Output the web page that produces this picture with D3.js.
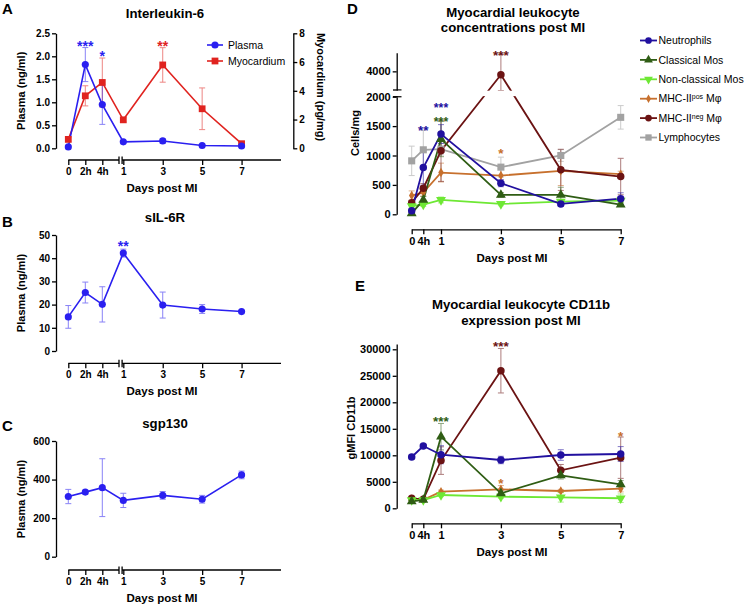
<!DOCTYPE html>
<html><head><meta charset="utf-8">
<script src="https://cdn.jsdelivr.net/npm/d3@7"></script>
<style>body{margin:0;background:#fff}</style>
</head><body><svg id="c" width="746" height="604" style="display:block"></svg>
<script>
// ---------------- DATA ----------------
const abcTimeLabels = ["0", "2h", "4h", "1", "3", "5", "7"];
const abcTimes = [0, 2 / 24, 4 / 24, 1, 3, 5, 7];

const il6Plasma = [0.03, 1.82, 0.95, 0.14, 0.16, 0.06, 0.05];
const il6PlasmaErr = [0.02, 0.37, 0.43, 0.03, 0.05, 0.02, 0.02];
const il6Myo = [0.62, 3.65, 4.58, 1.98, 5.8, 2.75, 0.32];
const il6MyoErr = [0.12, 0.7, 1.7, 0.15, 1.2, 1.45, 0.05];

const sil6r = [14.7, 25.2, 20.1, 42.2, 19.8, 18.1, 17.0];
const sil6rErr = [4.9, 4.5, 7.6, 1.7, 5.6, 1.9, 0.5];

const sgp130 = [312, 335, 358, 292, 318, 298, 424];
const sgp130Err = [37, 10, 150, 37, 20, 20, 20];

const deTimeLabels = ["0", "4h", "1", "3", "5", "7"];
const deTimes = [0, 4 / 24, 1, 3, 5, 7];

const cellNames = ["Neutrophils", "Classical Mos", "Non-classical Mos", "MHC-II|pos| Mφ", "MHC-II|neg| Mφ", "Lymphocytes"];

const concNeutro = [61, 795, 1365, 529, 176, 266];
const concNeutroErr = [30, 300, 160, 60, 40, 100];
const concClassic = [17, 244, 1280, 330, 330, 164];
const concClassicErr = [20, 60, 300, 40, 130, 30];
const concNonClassic = [141, 164, 244, 176, 215, 235];
const concNonClassicErr = [20, 30, 50, 30, 40, 40];
const concMhcPos = [318, 370, 710, 659, 739, 683];
const concMhcPosErr = [80, 60, 160, 120, 250, 50];
const concMhcNeg = [198, 443, 1080, 3908, 756, 642];
const concMhcNegErr = [40, 80, 520, 540, 350, 310];
const concLymph = [909, 1097, 1109, 802, 1000, 1649];
const concLymphErr = [250, 330, 100, 170, 100, 200];

const cd11Neutro = [9680, 11755, 10113, 9113, 10057, 10245];
const cd11NeutroErr = [400, 300, 1700, 700, 1000, 1400];
const cd11Classic = [1300, 1566, 13510, 2830, 6226, 4528];
const cd11ClassicErr = [200, 200, 2500, 600, 700, 700];
const cd11NonClassic = [1566, 1566, 2510, 2189, 2075, 1900];
const cd11NonClassicErr = [150, 150, 300, 300, 900, 800];
const cd11MhcPos = [1700, 1600, 3132, 3585, 3264, 3698];
const cd11MhcPosErr = [200, 200, 300, 700, 300, 600];
const cd11MhcNeg = [1887, 1700, 9000, 25962, 7170, 9547];
const cd11MhcNegErr = [200, 200, 2600, 4200, 1100, 3900];

// ---------------- STYLE ----------------
const FONT = '"Liberation Sans", Arial, Helvetica, sans-serif';
const BLUE = "#2a1ff0", RED = "#e0231f";
const C_NEU = "#21109f", C_CLA = "#2f5d14", C_NON = "#6ee834", C_POS = "#c7702d", C_NEG = "#6b1313", C_LYM = "#a2a2a2";

const svg = d3.select("#c");

function text(g, x, y, s, o = {}) {
  const t = g.append("text").attr("x", x).attr("y", y).attr("font-family", FONT)
    .attr("font-size", o.size || 11).attr("font-weight", o.weight || "bold")
    .attr("fill", o.color || "#000").attr("text-anchor", o.anchor || "middle").text(s);
  if (o.rotate !== undefined) t.attr("transform", `rotate(${o.rotate},${x},${y})`);
  if (o.dy) t.attr("dy", o.dy);
  return t;
}

function styleAxis(a, size) {
  a.attr("font-family", FONT).attr("font-size", size).attr("font-weight", "bold");
  a.selectAll("text").attr("fill", "#000");
  a.selectAll("path,line").attr("stroke", "#000").attr("stroke-width", 1.3);
}

function sym(type, size, rot) {
  return { type, size, rot: rot || 0 };
}

function drawSeries(g, times, vals, x, y, color, lw) {
  const line = d3.line().x((d, i) => x(times[i])).y(d => y(d));
  g.append("path").datum(vals).attr("d", line).attr("fill", "none").attr("stroke", color).attr("stroke-width", lw || 1.6);
}
function drawErr(g, times, vals, errs, x, y, color) {
  vals.forEach((v, i) => {
    const xx = x(times[i]);
    const y1 = y(v + errs[i]), y2 = y(Math.max(v - errs[i], 0));
    const eg = g.append("g").attr("stroke", color).attr("stroke-width", 1).attr("opacity", 0.55);
    eg.append("line").attr("x1", xx).attr("x2", xx).attr("y1", y1).attr("y2", y2);
    eg.append("line").attr("x1", xx - 3).attr("x2", xx + 3).attr("y1", y1).attr("y2", y1);
    eg.append("line").attr("x1", xx - 3).attr("x2", xx + 3).attr("y1", y2).attr("y2", y2);
  });
}
function drawPoints(g, times, vals, x, y, color, s) {
  vals.forEach((v, i) => {
    g.append("path").attr("d", d3.symbol().type(s.type).size(s.size)())
      .attr("transform", `translate(${x(times[i])},${y(v)}) rotate(${s.rot})`).attr("fill", color);
  });
}

// ---------- A-C x axis (broken) ----------
function abcScale() {
  return d3.scaleLinear().domain([0, 4 / 24, 1, 9]).range([68.3, 102.3, 123.3, 281]);
}
function brokenX(g, x, yA) {
  const ax = d3.axisBottom(x).tickValues(abcTimes).tickFormat((d, i) => abcTimeLabels[i])
    .tickSize(5).tickSizeOuter(0).tickPadding(3);
  const a = g.append("g").attr("transform", `translate(0,${yA})`).call(ax);
  a.select(".domain").remove();
  styleAxis(a, 10);
  const b1 = x(1) - 4.3, b2 = x(1) - 1.2;
  const lg = g.append("g").attr("stroke", "#000").attr("stroke-width", 1.3);
  lg.append("line").attr("x1", x(0)).attr("x2", b1).attr("y1", yA).attr("y2", yA);
  lg.append("line").attr("x1", b2).attr("x2", x(9)).attr("y1", yA).attr("y2", yA);
  [b1, b2].forEach(b => lg.append("line").attr("x1", b).attr("x2", b).attr("y1", yA - 3.5).attr("y2", yA + 4));
  text(g, 162, yA + 28, "Days post MI", { size: 11.5, dy: "0.35em" });
}

function leftAxis(g, y, xA, ticks, fmt, size) {
  const ax = d3.axisLeft(y).tickValues(ticks).tickSize(4).tickSizeOuter(0).tickPadding(2);
  if (fmt) ax.tickFormat(fmt);
  const a = g.append("g").attr("transform", `translate(${xA},0)`).call(ax);
  styleAxis(a, size || 10);
  return a;
}

// ================= PANEL A =================
{
  const g = svg.append("g");
  const x = abcScale();
  const yL = d3.scaleLinear().domain([0, 2.5]).range([148.3, 33.3]);
  const yR = d3.scaleLinear().domain([0, 8]).range([148.3, 33.3]);
  text(g, 2, 13.5, "A", { size: 15, anchor: "start" });
  text(g, 165, 13, "Interleukin-6", { size: 13.2, dy: "0.35em" });
  leftAxis(g, yL, 56, [0, 0.5, 1, 1.5, 2, 2.5], d3.format(".1f"));
  const ar = g.append("g").attr("transform", "translate(293.3,0)")
    .call(d3.axisRight(yR).tickValues([0, 2, 4, 6, 8]).tickSize(4).tickSizeOuter(0).tickPadding(2));
  styleAxis(ar, 10);
  text(g, 25, 90.8, "Plasma (ng/ml)", { size: 11, rotate: -90 });
  text(g, 316.5, 87, "Myocardium (pg/mg)", { size: 11, rotate: 90 });
  brokenX(g, x, 160);
  drawSeries(g, abcTimes, il6Myo, x, yR, RED, 1.6);
  drawSeries(g, abcTimes, il6Plasma, x, yL, BLUE, 1.6);
  drawErr(g, abcTimes, il6Myo, il6MyoErr, x, yR, RED);
  drawErr(g, abcTimes, il6Plasma, il6PlasmaErr, x, yL, BLUE);
  drawPoints(g, abcTimes, il6Myo, x, yR, RED, sym(d3.symbolSquare, 46));
  drawPoints(g, abcTimes, il6Plasma, x, yL, BLUE, sym(d3.symbolCircle, 40));
  // stars
  text(g, x(2 / 24), yL(2.29) + 8, "***", { size: 14, color: BLUE });
  text(g, x(4 / 24), yL(2.07) + 8, "*", { size: 14, color: BLUE });
  text(g, x(3), yL(2.29) + 8, "**", { size: 14, color: RED });
  // legend
  [["Plasma", BLUE, sym(d3.symbolCircle, 40)], ["Myocardium", RED, sym(d3.symbolSquare, 46)]].forEach((d, i) => {
    const yy = 45 + i * 16;
    g.append("line").attr("x1", 207).attr("x2", 223).attr("y1", yy).attr("y2", yy).attr("stroke", d[1]).attr("stroke-width", 1.6);
    g.append("path").attr("d", d3.symbol().type(d[2].type).size(d[2].size)()).attr("transform", `translate(215,${yy})`).attr("fill", d[1]);
    text(g, 228, yy, d[0], { size: 10.5, weight: "normal", anchor: "start", dy: "0.35em" });
  });
}

// ================= PANEL B =================
{
  const g = svg.append("g");
  const x = abcScale();
  const y = d3.scaleLinear().domain([0, 50]).range([351, 235]);
  text(g, 2, 227, "B", { size: 15, anchor: "start" });
  text(g, 165, 217.5, "sIL-6R", { size: 13.2, dy: "0.35em" });
  leftAxis(g, y, 56, [0, 10, 20, 30, 40, 50]);
  text(g, 25, 293, "Plasma (ng/ml)", { size: 11, rotate: -90 });
  brokenX(g, x, 363.3);
  drawSeries(g, abcTimes, sil6r, x, y, BLUE, 1.6);
  drawErr(g, abcTimes, sil6r, sil6rErr, x, y, BLUE);
  drawPoints(g, abcTimes, sil6r, x, y, BLUE, sym(d3.symbolCircle, 40));
  text(g, x(1), y(46.5) + 8, "**", { size: 14, color: BLUE });
}

// ================= PANEL C =================
{
  const g = svg.append("g");
  const x = abcScale();
  const y = d3.scaleLinear().domain([0, 600]).range([556.7, 441]);
  text(g, 2, 431, "C", { size: 15, anchor: "start" });
  text(g, 165, 423.5, "sgp130", { size: 13.2, dy: "0.35em" });
  leftAxis(g, y, 56, [0, 200, 400, 600]);
  text(g, 25, 499, "Plasma (ng/ml)", { size: 11, rotate: -90 });
  brokenX(g, x, 570);
  drawSeries(g, abcTimes, sgp130, x, y, BLUE, 1.6);
  drawErr(g, abcTimes, sgp130, sgp130Err, x, y, BLUE);
  drawPoints(g, abcTimes, sgp130, x, y, BLUE, sym(d3.symbolCircle, 40));
}

// ---------- D/E helpers ----------
function deScale() {
  return d3.scaleLinear().domain([0, 4 / 24, 1, 7]).range([411.7, 423.3, 441, 620.7]);
}
function deX(g, x, yA) {
  const ax = d3.axisBottom(x).tickValues(deTimes).tickFormat((d, i) => deTimeLabels[i])
    .tickSize(5).tickSizeOuter(0).tickPadding(3);
  const a = g.append("g").attr("transform", `translate(0,${yA})`).call(ax);
  styleAxis(a, 11);
  text(g, 512, yA + 28.5, "Days post MI", { size: 11.5, dy: "0.35em" });
}
const markers = [
  sym(d3.symbolCircle, 44), sym(d3.symbolTriangle, 42), sym(d3.symbolTriangle, 42, 180),
  sym(d3.symbolDiamond, 26), sym(d3.symbolCircle, 44), sym(d3.symbolSquare, 50)
];
const cellColors = [C_NEU, C_CLA, C_NON, C_POS, C_NEG, C_LYM];

// ================= PANEL D =================
{
  const g = svg.append("g");
  const x = deScale();
  const yLow = d3.scaleLinear().domain([0, 2000]).range([214.3, 96.7]);
  const yHigh = d3.scaleLinear().domain([3500, 4500]).range([90, 52.7]);
  const y = v => (v <= 2000 ? yLow(v) : (v >= 3500 ? yHigh(v) : yLow(2000) - (v - 2000) / 1500 * (yLow(2000) - yHigh(3500))));
  text(g, 347, 13.5, "D", { size: 15, anchor: "start" });
  text(g, 513, 12, "Myocardial leukocyte", { size: 13.2, dy: "0.35em" });
  text(g, 513, 27.5, "concentrations post MI", { size: 13.2, dy: "0.35em" });
  leftAxis(g, yLow, 396.7, [0, 500, 1000, 1500, 2000], d3.format("d"), 11);
  leftAxis(g, yHigh, 396.7, [4000], d3.format("d"), 11);
  const bl = g.append("g").attr("stroke", "#000").attr("stroke-width", 1.3);
  [90, 96.7].forEach(b => bl.append("line").attr("x1", 393).attr("x2", 401.5).attr("y1", b).attr("y2", b));
  text(g, 359, 133, "Cells/mg", { size: 11, rotate: -90 });
  deX(g, x, 229.3);
  const conc = [concNeutro, concClassic, concNonClassic, concMhcPos, concMhcNeg, concLymph];
  const concErr = [concNeutroErr, concClassicErr, concNonClassicErr, concMhcPosErr, concMhcNegErr, concLymphErr];
  const order = [5, 3, 4, 2, 1, 0];
  order.forEach(k => drawErr(g, deTimes, conc[k], concErr[k], x, y, cellColors[k]));
  order.forEach(k => drawSeries(g, deTimes, conc[k], x, y, cellColors[k], 1.8));
  g.append("rect").attr("x", 398).attr("y", 90.7).attr("width", 230).attr("height", 5.4).attr("fill", "#fff");
  order.forEach(k => drawPoints(g, deTimes, conc[k], x, y, cellColors[k], markers[k]));
  text(g, x(4 / 24), yLow(1490) + 8, "**", { size: 13.5, color: C_NEU });
  text(g, x(1), yLow(1859) + 7.3, "***", { size: 12.3, color: C_NEU });
  text(g, x(1), yLow(1625) + 7.3, "***", { size: 12.3, color: C_CLA });
  text(g, x(3), yHigh(4527) + 8, "***", { size: 13.5, color: C_NEG });
  text(g, x(3), yLow(1097) + 8, "*", { size: 13.5, color: C_POS });
  // legend
  cellNames.forEach((n, i) => {
    const yy = 40.5 + i * 19.4;
    g.append("line").attr("x1", 640).attr("x2", 657).attr("y1", yy).attr("y2", yy).attr("stroke", cellColors[i]).attr("stroke-width", 1.8);
    const m = markers[i];
    g.append("path").attr("d", d3.symbol().type(m.type).size(m.size * 0.8)()).attr("transform", `translate(648.5,${yy}) rotate(${m.rot})`).attr("fill", cellColors[i]);
    const parts = n.split("|");
    const t = g.append("text").attr("x", 658.5).attr("y", yy).attr("dy", "0.35em").attr("font-family", FONT)
      .attr("font-size", 10.5).attr("fill", "#000");
    t.append("tspan").text(parts[0]);
    if (parts.length > 1) {
      t.append("tspan").attr("font-size", 7).attr("dy", "-0.45em").text(parts[1]);
      t.append("tspan").attr("dy", "0.3em").text(parts[2]);
    }
  });
}

// ================= PANEL E =================
{
  const g = svg.append("g");
  const x = deScale();
  const y = d3.scaleLinear().domain([0, 31000]).range([508.3, 344]);
  text(g, 355, 290.5, "E", { size: 15, anchor: "start" });
  text(g, 521, 304, "Myocardial leukocyte CD11b", { size: 13.2, dy: "0.35em" });
  text(g, 521, 320, "expression post MI", { size: 13.2, dy: "0.35em" });
  const a = g.append("g").attr("transform", "translate(396.7,0)")
    .call(d3.axisLeft(y).tickValues([0, 5000, 10000, 15000, 20000, 25000, 30000]).tickFormat(d3.format("d")).tickSize(4).tickSizeOuter(0).tickPadding(2));
  styleAxis(a, 11);
  text(g, 355, 428, "gMFI CD11b", { size: 11, rotate: -90 });
  deX(g, x, 523.3);
  const cd = [cd11Neutro, cd11Classic, cd11NonClassic, cd11MhcPos, cd11MhcNeg];
  const cdErr = [cd11NeutroErr, cd11ClassicErr, cd11NonClassicErr, cd11MhcPosErr, cd11MhcNegErr];
  const order = [3, 4, 2, 1, 0];
  order.forEach(k => drawErr(g, deTimes, cd[k], cdErr[k], x, y, cellColors[k]));
  order.forEach(k => drawSeries(g, deTimes, cd[k], x, y, cellColors[k], 1.8));
  order.forEach(k => drawPoints(g, deTimes, cd[k], x, y, cellColors[k], markers[k]));
  text(g, x(1), y(16981) + 8, "***", { size: 13.5, color: C_CLA });
  text(g, x(3), y(31132) + 8, "***", { size: 13.5, color: C_NEG });
  text(g, x(3), y(5340) + 8, "*", { size: 13.5, color: C_POS });
  text(g, x(7), y(14264) + 8, "*", { size: 13.5, color: C_POS });
}
</script></body></html>
